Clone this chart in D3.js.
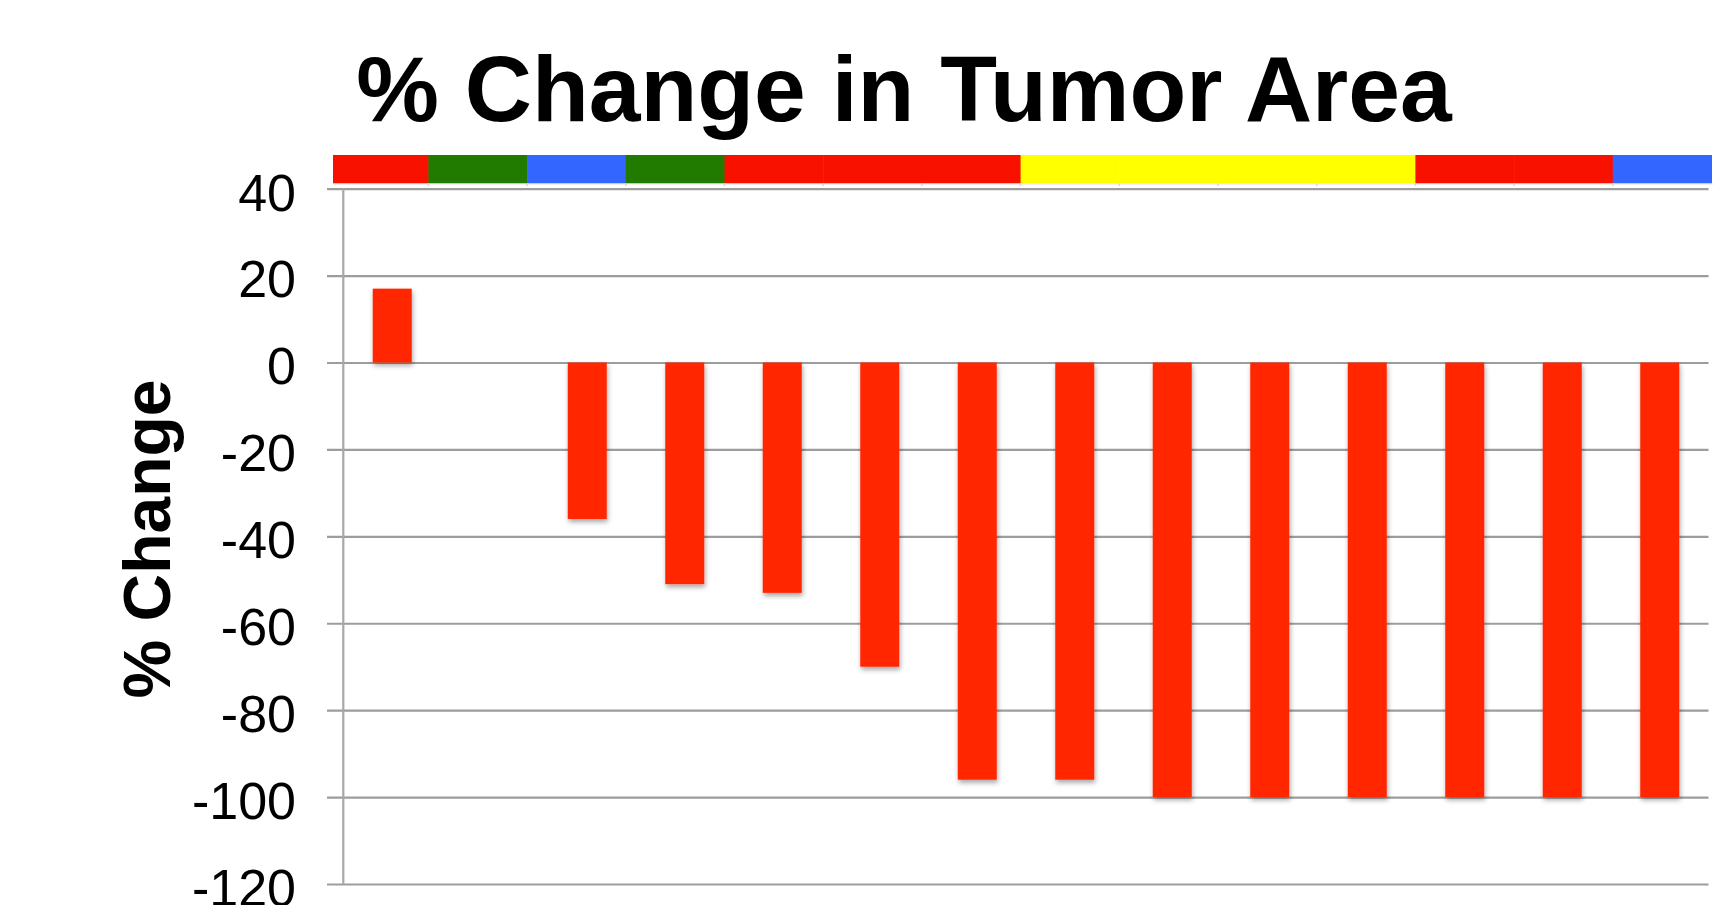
<!DOCTYPE html>
<html>
<head>
<meta charset="utf-8">
<script src="https://cdn.jsdelivr.net/npm/d3@7"></script>
<style>
  html, body { margin: 0; padding: 0; background: #fff; }
  svg { display: block; font-family: "Liberation Sans", Arial, Helvetica, sans-serif; }
</style>
</head>
<body>
<script>
// patients, in the order they appear along the x axis
const patients = ['P1', 'P2', 'P3', 'P4', 'P5', 'P6', 'P7', 'P8', 'P9', 'P10', 'P11', 'P12', 'P13', 'P14'];
// % change in tumor area (P2 has no bar)
const pctChange = [17, null, -36, -51, -53, -70, -96, -96, -100, -100, -100, -100, -100, -100];
// group colour strip above the chart
const groupColors = ['#f91100', '#217b00', '#3366ff', '#217b00', '#f91100', '#f91100', '#f91100',
                     '#ffff00', '#ffff00', '#ffff00', '#ffff00', '#f91100', '#f91100', '#3366ff'];
const yTicks = [40, 20, 0, -20, -40, -60, -80, -100, -120];

const width = 1713, height = 905;

const svg = d3.select('body').append('svg')
    .attr('width', width)
    .attr('height', height);

// soft shadow under the bars
const filter = svg.append('defs').append('filter')
    .attr('id', 'shadow')
    .attr('x', '-20%').attr('y', '-20%')
    .attr('width', '150%').attr('height', '150%');
filter.append('feDropShadow')
    .attr('dx', 1).attr('dy', 3)
    .attr('stdDeviation', 2.5)
    .attr('flood-color', '#000')
    .attr('flood-opacity', 0.35);

const x = d3.scaleBand()
    .domain(patients)
    .range([343.5, 1708.5])
    .paddingInner(0.6)
    .paddingOuter(0.3);

const y = d3.scaleLinear()
    .domain([-120, 40])
    .range([884, 188.7]);

// title
svg.append('text')
    .attr('x', 904)
    .attr('y', 121)
    .attr('text-anchor', 'middle')
    .attr('font-size', 93)
    .attr('font-weight', 'bold')
    .text('% Change in Tumor Area');

// y axis title
svg.append('text')
    .attr('transform', 'translate(170,539) rotate(-90)')
    .attr('text-anchor', 'middle')
    .attr('font-size', 66)
    .attr('font-weight', 'bold')
    .text('% Change');

// colour strip, its own band scale (sits a little off the plot)
const xs = d3.scaleBand()
    .domain(patients)
    .range([329.7, 1711.5]);

svg.append('clipPath').attr('id', 'stripClip')
    .append('rect').attr('x', 333).attr('y', 150).attr('width', 1400).attr('height', 40);

const strip = svg.append('g').attr('clip-path', 'url(#stripClip)');
strip.selectAll('rect')
    .data(patients)
    .enter().append('rect')
    .attr('x', d => xs(d))
    .attr('y', 155)
    .attr('width', xs.bandwidth() + 0.5)
    .attr('height', 28.5)
    .attr('fill', (d, i) => groupColors[i]);

strip.append('line')
    .attr('x1', 333).attr('x2', 1713)
    .attr('y1', 184).attr('y2', 184)
    .attr('stroke', '#f0dede')
    .attr('stroke-width', 1);

strip.selectAll('line.tk')
    .data(patients)
    .enter().append('line')
    .attr('class', 'tk')
    .attr('x1', d => xs(d)).attr('x2', d => xs(d))
    .attr('y1', 183.5).attr('y2', 186)
    .attr('stroke', '#d6d6d6')
    .attr('stroke-width', 1.5);

// gridlines, with the tick stubs sticking out left of the axis
const yAxis = d3.axisRight(y)
    .tickValues(yTicks)
    .tickSize(1708.5 - 327)
    .tickFormat('');

svg.append('g')
    .attr('transform', 'translate(327,0)')
    .call(yAxis)
    .call(g => g.select('.domain').remove())
    .call(g => g.selectAll('.tick line')
        .attr('stroke', '#9d9d9d')
        .attr('stroke-width', 2.2));

// tick labels
svg.append('g')
    .selectAll('text')
    .data(yTicks)
    .enter().append('text')
    .attr('x', 296)
    .attr('y', d => y(d))
    .attr('dy', '0.42em')
    .attr('text-anchor', 'end')
    .attr('font-size', 52)
    .attr('fill', '#000')
    .text(d => d);

// vertical axis line
svg.append('line')
    .attr('x1', 343.3).attr('x2', 343.3)
    .attr('y1', y(40)).attr('y2', y(-120))
    .attr('stroke', '#a8a8a8')
    .attr('stroke-width', 2.2);

// bars
svg.append('g')
    .selectAll('rect')
    .data(patients.map((p, i) => ({ p, v: pctChange[i] })).filter(d => d.v !== null))
    .enter().append('rect')
    .attr('x', d => x(d.p))
    .attr('y', d => y(Math.max(0, d.v)))
    .attr('width', x.bandwidth())
    .attr('height', d => Math.abs(y(d.v) - y(0)))
    .attr('fill', '#ff2600')
    .attr('filter', 'url(#shadow)');
</script>
</body>
</html>
